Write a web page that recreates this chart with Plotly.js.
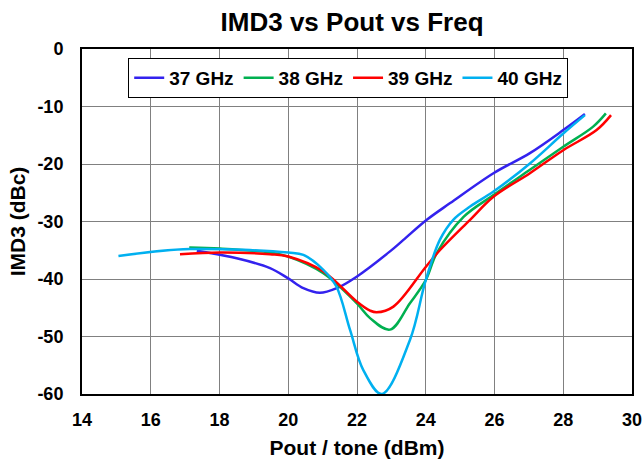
<!DOCTYPE html>
<html><head><meta charset="utf-8">
<script src="https://cdn.plot.ly/plotly-3.0.1.min.js"></script>
<style>html,body{margin:0;padding:0;background:#fff}#c{width:644px;height:463px}</style>
</head><body><div id="c"></div>
<script>
const x37 = [17.34, 18.5, 19.47, 20.0, 20.44, 20.92, 21.41, 21.99, 22.96, 23.35, 24.03, 24.71, 25.97, 27.03, 28.0, 28.63];
const y37 = [-35.1, -36.4, -38.1, -39.9, -41.6, -42.4, -41.6, -39.6, -35.2, -33.2, -29.7, -26.8, -21.6, -18.1, -14.1, -11.3];
const x38 = [17.12, 18.01, 19.47, 20.0, 21.02, 21.99, 22.38, 22.96, 23.54, 24.0, 24.32, 25.1, 25.97, 27.03, 28.0, 28.87, 29.24];
const y38 = [-34.5, -34.7, -35.4, -36.1, -39.0, -44.2, -46.8, -48.8, -44.2, -40.2, -35.5, -29.2, -25.4, -21.0, -17.0, -13.5, -11.2];
const x39 = [16.85, 18.01, 19.47, 20.0, 21.02, 21.99, 22.38, 22.57, 23.06, 24.0, 24.41, 25.29, 25.97, 27.03, 28.0, 28.97, 29.39];
const y39 = [-35.7, -35.4, -35.7, -36.1, -38.7, -43.9, -45.5, -45.8, -44.8, -37.9, -35.0, -29.7, -25.7, -21.6, -17.6, -14.1, -11.5];
const x40 = [15.06, 17.14, 20.0, 20.44, 21.02, 21.4, 21.8, 22.18, 22.72, 23.54, 24.0, 24.41, 24.8, 25.29, 25.97, 27.03, 28.0, 28.63];
const y40 = [-36.0, -34.8, -35.4, -35.8, -38.4, -41.3, -48.9, -55.8, -60.0, -50.6, -40.2, -33.2, -29.7, -27.4, -24.8, -19.9, -14.7, -11.5];
const xTicks = [14, 16, 18, 20, 22, 24, 26, 28, 30];
const yTicks = [0, -10, -20, -30, -40, -50, -60];
const yTickText = ['0', '-10', '-20', '-30', '-40', '-50', '-60'];

const F = 'Arial, "Liberation Sans", sans-serif';
function tr(x, y, name, color) {
  return {x: x, y: y, name: '<b>' + name + '</b>', type: 'scatter', mode: 'lines',
    line: {color: color, width: 2.5, shape: 'spline', smoothing: 1}};
}
const data = [
  tr(x37, y37, '37 GHz', '#3322ee'),
  tr(x38, y38, '38 GHz', '#00b050'),
  tr(x39, y39, '39 GHz', '#ff0000'),
  tr(x40, y40, '40 GHz', '#00b0f0')
];
const layout = {
  width: 644, height: 463,
  margin: {l: 82, r: 12, t: 49, b: 69},
  paper_bgcolor: '#fff', plot_bgcolor: '#fff',
  font: {family: F, color: '#000', size: 14},
  title: {text: '<b>IMD3 vs Pout vs Freq</b>', font: {family: F, size: 26, color: '#000'},
    xref: 'paper', x: 0.491, xanchor: 'center', y: 0.952, yanchor: 'middle'},
  xaxis: {range: [14, 30], tickvals: xTicks, ticktext: xTicks.map(v => '<b>' + v + '</b>'),
    showgrid: true, gridcolor: '#808080', gridwidth: 1,
    showline: true, linecolor: '#000', linewidth: 2, mirror: true,
    ticks: '', ticklabelstandoff: 8, zeroline: false,
    tickfont: {family: F, size: 18},
    title: {text: '<b>Pout / tone (dBm)</b>', font: {family: F, size: 21}, standoff: 12}},
  yaxis: {range: [-60, 0], tickvals: yTicks, ticktext: yTickText.map(v => '<b>' + v + '</b>'),
    showgrid: true, gridcolor: '#808080', gridwidth: 1,
    showline: true, linecolor: '#000', linewidth: 2, mirror: true,
    ticks: '', ticklabelstandoff: 13, zeroline: false,
    tickfont: {family: F, size: 18},
    title: {text: '<b>IMD3 (dBc)</b>', font: {family: F, size: 21}, standoff: 6}},
  showlegend: true,
  legend: {orientation: 'h', x: 0.084, xanchor: 'left', y: 0.974, yanchor: 'top',
    bgcolor: '#fff', bordercolor: '#000', borderwidth: 1,
    font: {family: F, size: 19}, itemwidth: 30, tracegroupgap: 0}
};
Plotly.newPlot('c', data, layout, {displayModeBar: false, staticPlot: true});
</script></body></html>
